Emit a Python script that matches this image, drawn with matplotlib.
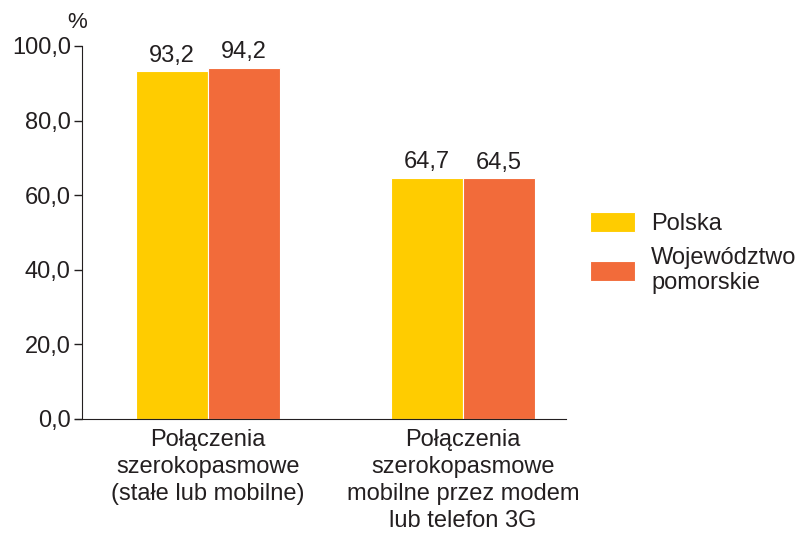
import numpy as np
import matplotlib
matplotlib.use('Agg')
import matplotlib.pyplot as plt

plt.rcParams['font.family'] = ['Liberation Sans', 'DejaVu Sans']
plt.rcParams['font.size'] = 17
plt.rcParams['text.color'] = '#231f20'

categories = ['Połączenia\nszerokopasmowe\n(stałe lub mobilne)',
              'Połączenia\nszerokopasmowe\nmobilne przez modem\nlub telefon 3G']
polska = [93.2, 64.7]
pomorskie = [94.2, 64.5]
series_names = ['Polska', 'Województwo\npomorskie']
yticks = [0, 20, 40, 60, 80, 100]

fig = plt.figure(figsize=(7.99, 5.33), dpi=100)
ax = fig.add_axes([0.1026, 0.214, 0.6055, 0.6997])

x = np.arange(len(categories))
w = 0.282
b1 = ax.bar(x - w / 2, polska, w, color='#ffcc00', edgecolor='white', linewidth=0.8,
            label=series_names[0])
b2 = ax.bar(x + w / 2, pomorskie, w, color='#f26b3a', edgecolor='white', linewidth=0.8,
            label=series_names[1])

fmt = lambda v: '{:.1f}'.format(v).replace('.', ',')
ax.bar_label(b1, labels=[fmt(v) for v in polska], padding=3)
ax.bar_label(b2, labels=[fmt(v) for v in pomorskie], padding=3)

ax.set_xlim(-0.494, 1.404)
ax.set_ylim(0, 100)
ax.set_yticks(yticks)
ax.set_yticklabels([fmt(v) for v in yticks])
ax.set_xticks(x)
ax.set_xticklabels(categories, linespacing=1.3)
ax.tick_params(axis='x', length=0, pad=7)
ax.tick_params(axis='y', direction='out', length=6, width=1, pad=2, colors='#231f20')
ax.tick_params(axis='x', colors='#231f20')

for s in ['top', 'right']:
    ax.spines[s].set_visible(False)
ax.spines['left'].set_color('#231f20')
ax.spines['bottom'].set_color('#231f20')
ax.spines['bottom'].set_bounds(-0.52, 1.404)

ax.text(-0.03, 1.035, '%', transform=ax.transAxes, ha='left', va='bottom', fontsize=16)

ax.legend(loc='center left', bbox_to_anchor=(1.03, 0.445), frameon=False,
          handlelength=1.9, handleheight=0.9, handletextpad=0.7,
          labelspacing=0.5, borderaxespad=0)

fig.savefig('out.png', dpi=100)
